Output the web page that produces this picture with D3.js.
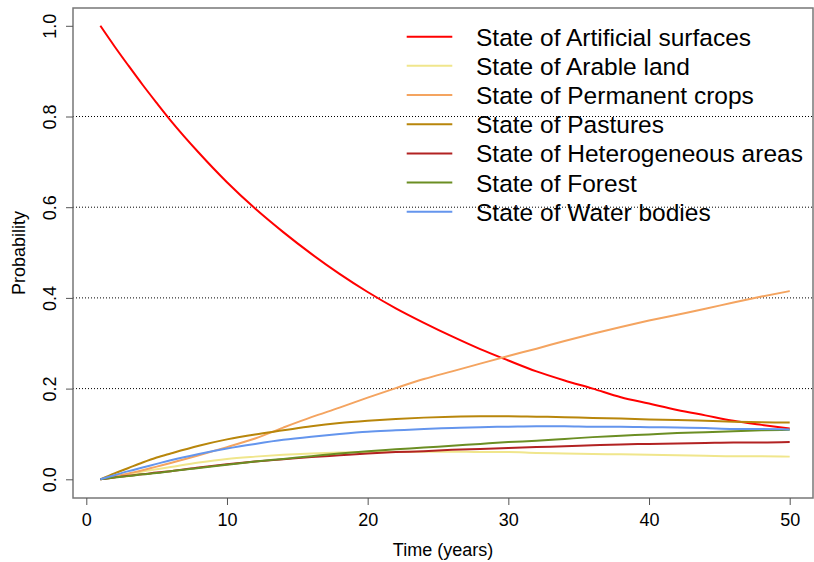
<!DOCTYPE html>
<html>
<head>
<meta charset="utf-8">
<script src="https://cdn.jsdelivr.net/npm/d3@7"></script>
<style>
	body { margin: 0; background: #fff; }
	text { font-family: Arial, "Liberation Sans", sans-serif; }
</style>
</head>
<body>
<svg id="chart" width="814" height="562"></svg>
<script>
const years = [1, 2, 3, 4, 5, 6, 8, 10, 12, 14, 16, 18, 20, 22, 24, 26, 28, 30, 32, 34, 36, 38, 40, 42, 44, 46, 48, 50];

const artificial = [1.0, 0.955, 0.912, 0.870, 0.830, 0.791, 0.720, 0.655, 0.597, 0.545, 0.497, 0.453, 0.413, 0.377, 0.345, 0.315, 0.287, 0.262, 0.238, 0.218, 0.200, 0.181, 0.167, 0.153, 0.141, 0.129, 0.120, 0.112];
const arable = [0, 0.006, 0.011, 0.017, 0.022, 0.027, 0.037, 0.045, 0.050, 0.054, 0.057, 0.059, 0.060, 0.061, 0.061, 0.061, 0.060, 0.060, 0.058, 0.057, 0.056, 0.055, 0.054, 0.053, 0.052, 0.051, 0.051, 0.050];
const permanent = [0, 0.006, 0.013, 0.020, 0.028, 0.036, 0.053, 0.071, 0.090, 0.114, 0.137, 0.158, 0.180, 0.201, 0.221, 0.238, 0.255, 0.272, 0.288, 0.305, 0.321, 0.336, 0.350, 0.363, 0.376, 0.390, 0.403, 0.415];
const pastures = [0, 0.013, 0.025, 0.037, 0.048, 0.057, 0.074, 0.088, 0.099, 0.108, 0.117, 0.124, 0.129, 0.133, 0.136, 0.138, 0.139, 0.139, 0.138, 0.137, 0.135, 0.134, 0.132, 0.131, 0.129, 0.127, 0.126, 0.125];
const heterogeneous = [0, 0.004, 0.008, 0.011, 0.015, 0.018, 0.026, 0.033, 0.039, 0.044, 0.049, 0.053, 0.057, 0.060, 0.062, 0.065, 0.067, 0.069, 0.071, 0.073, 0.075, 0.077, 0.078, 0.079, 0.080, 0.081, 0.081, 0.082];
const forest = [0, 0.004, 0.007, 0.011, 0.014, 0.018, 0.025, 0.032, 0.039, 0.045, 0.051, 0.057, 0.062, 0.066, 0.070, 0.074, 0.078, 0.082, 0.085, 0.089, 0.093, 0.096, 0.099, 0.102, 0.104, 0.106, 0.108, 0.109];
const water = [0, 0.009, 0.018, 0.026, 0.034, 0.042, 0.056, 0.068, 0.078, 0.087, 0.094, 0.100, 0.105, 0.108, 0.111, 0.113, 0.115, 0.116, 0.117, 0.117, 0.116, 0.116, 0.115, 0.114, 0.113, 0.111, 0.111, 0.110];

const seriesNames = [
	"State of Artificial surfaces",
	"State of Arable land",
	"State of Permanent crops",
	"State of Pastures",
	"State of Heterogeneous areas",
	"State of Forest",
	"State of Water bodies",
];
const seriesValues = [artificial, arable, permanent, pastures, heterogeneous, forest, water];
const seriesColors = ["#ff0000", "#f0e68c", "#f4a460", "#b8860b", "#b22222", "#6b8e23", "#6495ed"];

const xTicks = [0, 10, 20, 30, 40, 50];
const yTicks = [0.0, 0.2, 0.4, 0.6, 0.8, 1.0];
const gridTicks = [0.2, 0.4, 0.6, 0.8];

const svg = d3.select("#chart");

// plot region (R style box)
const box = { left: 73, right: 813, top: 8, bottom: 498 };

const x = d3.scaleLinear().domain([0, 50]).range([86.3, 789.7]);
const y = d3.scaleLinear().domain([0, 1]).range([479.3, 25.8]);

// dotted grid lines
svg.append("g")
	.selectAll("line")
	.data(gridTicks)
	.join("line")
	.attr("x1", box.left)
	.attr("x2", box.right)
	.attr("y1", (d) => y(d))
	.attr("y2", (d) => y(d))
	.attr("stroke", "#000")
	.attr("stroke-width", 1)
	.attr("stroke-dasharray", "1,2");

// series lines
const line = d3
	.line()
	.x((d) => x(d[0]))
	.y((d) => y(d[1]))
	.curve(d3.curveMonotoneX);

seriesValues.forEach((vals, i) => {
	svg.append("path")
		.datum(years.map((t, j) => [t, vals[j]]))
		.attr("fill", "none")
		.attr("stroke", seriesColors[i])
		.attr("stroke-width", 2)
		.attr("d", line);
});

// box
svg.append("rect")
	.attr("x", box.left)
	.attr("y", box.top)
	.attr("width", box.right - box.left)
	.attr("height", box.bottom - box.top)
	.attr("fill", "none")
	.attr("stroke", "#777")
	.attr("stroke-width", 1.5);

// bottom axis
const bottomAxis = d3.axisBottom(x).tickValues(xTicks).tickFormat(d3.format("d")).tickSize(7).tickPadding(8);
const gx = svg.append("g")
	.attr("transform", `translate(0,${box.bottom})`)
	.call(bottomAxis);
gx.select(".domain").remove();
gx.selectAll(".tick line").attr("stroke", "#555");
gx.selectAll(".tick text").attr("font-size", "18px").attr("fill", "#000")
	.attr("font-family", "Arial, 'Liberation Sans', sans-serif");

// left axis, labels rotated like R's default
const leftAxis = d3.axisLeft(y).tickValues(yTicks).tickFormat(d3.format(".1f")).tickSize(7);
const gy = svg.append("g")
	.attr("transform", `translate(${box.left},0)`)
	.call(leftAxis);
gy.select(".domain").remove();
gy.selectAll(".tick line").attr("stroke", "#555");
gy.selectAll(".tick text")
	.attr("font-size", "18px")
	.attr("fill", "#000")
	.attr("font-family", "Arial, 'Liberation Sans', sans-serif")
	.attr("x", null)
	.attr("dy", null)
	.attr("text-anchor", "middle")
	.attr("transform", "translate(-17,0) rotate(-90)");

// axis titles
svg.append("text")
	.attr("x", (box.left + box.right) / 2)
	.attr("y", 556)
	.attr("text-anchor", "middle")
	.attr("font-size", "18px")
	.text("Time (years)");

svg.append("text")
	.attr("transform", `translate(25,${(box.top + box.bottom) / 2}) rotate(-90)`)
	.attr("text-anchor", "middle")
	.attr("font-size", "18px")
	.text("Probability");

// legend, no frame
const legend = svg.append("g").attr("transform", "translate(406.7,36.7)");
seriesNames.forEach((name, i) => {
	const row = legend.append("g").attr("transform", `translate(0,${i * 29.17})`);
	row.append("line")
		.attr("x1", 0)
		.attr("x2", 45.6)
		.attr("stroke", seriesColors[i])
		.attr("stroke-width", 2);
	row.append("text")
		.attr("x", 69.3)
		.attr("y", 9)
		.attr("font-size", "24.5px")
		.attr("fill", "#000")
		.text(name);
});
</script>
</body>
</html>
